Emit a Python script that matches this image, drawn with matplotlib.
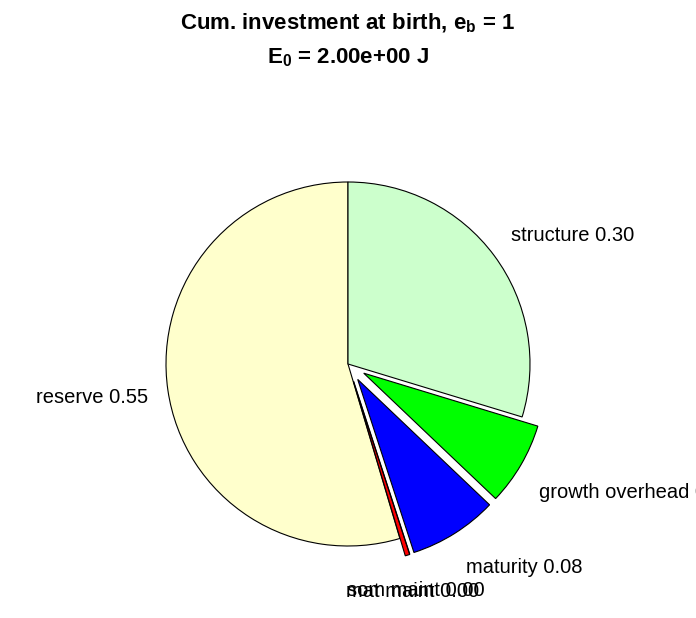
import numpy as np
import matplotlib
matplotlib.use("Agg")
import matplotlib.pyplot as plt

# ===============================
# DATA
# ===============================
NAMES = ["reserve", "mat maint", "som maint", "maturity", "growth overhead", "structure"]
FRACTIONS = [0.546, 0.004, 0.0, 0.079, 0.074, 0.297]
EXPLODE = [0, 0.1, 0.1, 0.1, 0.1, 0]
COLORS = ["#FFFFCC", "#FF0000", "#FF00FF", "#0000FF", "#00FF00", "#CCFFCC"]

TITLE_1 = r"Cum. investment at birth, $\mathbf{e_b}$ = 1"
TITLE_2 = r"$\mathbf{E_0}$ = 2.00e+00 J"

plt.rcParams["font.family"] = ["Liberation Sans", "DejaVu Sans"]
plt.rcParams["mathtext.fontset"] = "custom"
plt.rcParams["mathtext.rm"] = "Liberation Sans"
plt.rcParams["mathtext.bf"] = "Liberation Sans:bold"

W, H = 696, 618
R_PX = 182.0          # pie radius in pixels
CX, CY = 348, 364     # pie centre, pixels from top-left

fig = plt.figure(figsize=(W / 100, H / 100), dpi=100)
ax = fig.add_axes([0, 0, 1, 1])

wedges, _ = ax.pie(
    FRACTIONS,
    colors=COLORS,
    explode=EXPLODE,
    startangle=90,
    counterclock=True,
    radius=1.0,
    normalize=True,
    wedgeprops=dict(edgecolor="black", linewidth=0.8),
    frame=False,
)
ax.set_xlim(-CX / R_PX, (W - CX) / R_PX)
ax.set_ylim(-(H - CY) / R_PX, CY / R_PX)
ax.set_aspect("auto")
ax.axis("off")

# labels at 1.1 r from the (exploded) centre of each slice
fr = np.array(FRACTIONS) / np.sum(FRACTIONS)
start = 0.25 + np.concatenate([[0], np.cumsum(fr)[:-1]])
mid = 2 * np.pi * (start + fr / 2)
for name, v, e, a in zip(NAMES, FRACTIONS, EXPLODE, mid):
    c, s = np.cos(a), np.sin(a)
    x = (e + 1.1) * c
    y = (e + 1.1) * s
    if abs(c) < 0.4:
        ha = "center"
    else:
        ha = "left" if c > 0 else "right"
        x += np.sign(c) * 2 / R_PX
    if abs(s) < 0.3:
        y -= 10 / R_PX
    elif s > 0:
        y += 4 / R_PX
    else:
        y -= 24 / R_PX
    ax.text(x, y, f"{name} {v:1.2f}", ha=ha, va="baseline",
            fontsize=14.5, color="black", clip_on=False)

fig.text(0.5, 1 - 29 / H, TITLE_1, ha="center", va="baseline",
         fontsize=16, fontweight="bold")
fig.text(0.5, 1 - 63 / H, TITLE_2, ha="center", va="baseline",
         fontsize=16, fontweight="bold")

fig.savefig("out.png", dpi=100)
